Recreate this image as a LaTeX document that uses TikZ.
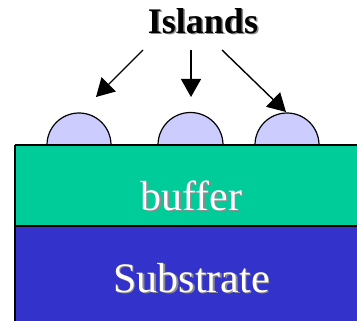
\documentclass[tikz,border=0pt]{standalone}
\usepackage{fontspec}
\newfontfamily\timesfont{Liberation Serif}
\usetikzlibrary{arrows.meta}
\definecolor{buffergreen}{HTML}{00CC99}
\definecolor{substrateblue}{HTML}{3333CC}
\definecolor{islandfill}{HTML}{CCCCFF}
\tikzset{
  layer/.style={draw=black, line width=1.6pt},
  island/.style={draw=black, fill=islandfill, line width=1.2pt},
  pointer/.style={draw=black, line width=1.4pt, -{Triangle[length=18pt,width=20pt]}},
  shadowtext/.style={text=black!45},
}
\begin{document}
\begin{tikzpicture}[x=1pt,y=-1pt]
  \useasboundingbox (0,0) rectangle (357,321);
  \clip (0,0) rectangle (357,321);
  % substrate and buffer layers
  \fill[substrateblue] (15,226) rectangle (380,340);
  \fill[buffergreen] (15,145) rectangle (380,226);
  \draw[layer] (15,226) -- (380,226);
  \draw[layer] (15,145) -- (15,340);
  % islands
  \draw[island] (47,145) arc[start angle=180,end angle=360,radius=32] -- cycle;
  \draw[island] (158,145) arc[start angle=180,end angle=360,radius=32.5] -- cycle;
  \draw[island] (255,145) arc[start angle=180,end angle=360,radius=32] -- cycle;
  \draw[layer] (15,145) -- (380,145);
  % label and arrows
  \node[shadowtext, font=\timesfont\fontsize{36}{40}\selectfont\bfseries] at (204.5,22.5) {Islands};
  \node (lab) [font=\timesfont\fontsize{36}{40}\selectfont\bfseries] at (203,21) {Islands};
  \coordinate (a1s) at (143,50);
  \coordinate (a1e) at (96,97);
  \coordinate (a2s) at (191,50);
  \coordinate (a2e) at (191,97);
  \coordinate (a3s) at (222,50);
  \coordinate (a3e) at (286,112);
  \draw[pointer] (a1s) -- (a1e);
  \draw[pointer] (a2s) -- (a2e);
  \draw[pointer] (a3s) -- (a3e);
  % layer names
  \node[shadowtext, font=\timesfont\fontsize{42}{46}\selectfont] at (193,197) {buffer};
  \node (buf) [text=white, font=\timesfont\fontsize{42}{46}\selectfont] at (191.5,195.5) {buffer};
  \node[shadowtext, font=\timesfont\fontsize{42}{46}\selectfont] at (193,279.5) {Substrate};
  \node (sub) [text=white, font=\timesfont\fontsize{42}{46}\selectfont] at (191.5,278) {Substrate};
\end{tikzpicture}
\end{document}
